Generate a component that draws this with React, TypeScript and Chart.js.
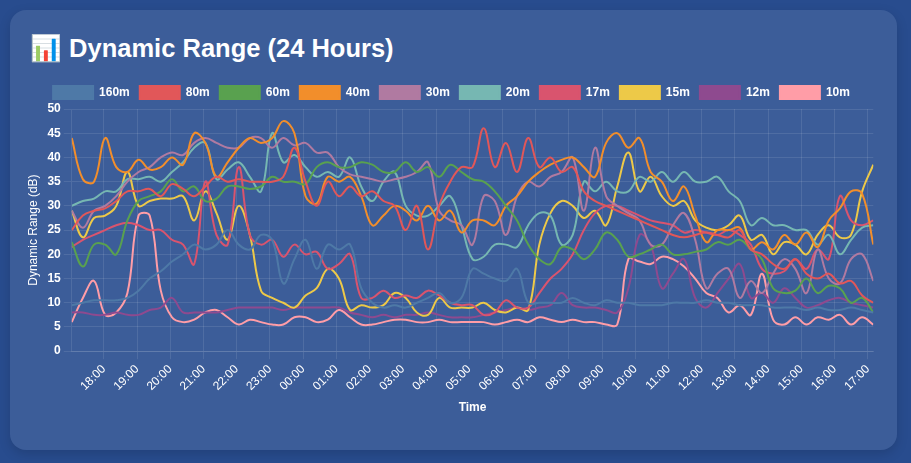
import { useEffect, useRef } from 'react';
import { Chart, registerables } from 'chart.js';

Chart.register(...registerables);

// sampling: minutes after 17:00 of the first reading, and spacing between readings
const START_MIN = 2;
const STEP_MIN = 20.11;

const BANDS = ['160m', '80m', '60m', '40m', '30m', '20m', '17m', '15m', '12m', '10m'];
const BAND_COLORS = [
  '#4e79a7', '#e15759', '#59a14f', '#f28e2b', '#b07aa1',
  '#76b7b2', '#d9546e', '#edc948', '#8e4a8f', '#ff9da7',
];

const DR_160 = [
  9.5, 10, 10.5, 10.5, 10.5, 11, 12.5, 15, 16.5, 18.5, 20, 22, 21, 22, 25, 22, 21, 24, 23,
  14, 19, 23, 17, 22, 21, 22, 13, 10, 9, 9.5, 9, 10, 11, 12, 10, 11, 17,
  16, 15, 14.5, 17, 10, 10, 10, 10, 11, 10, 9.5, 10.5, 10, 10, 9.5, 9.5, 9.5, 10,
  10, 10, 10.5, 10, 10, 9.5, 9.5, 9.5, 9, 9, 9, 8.5, 9, 8.5, 8.5, 9, 8.5, 8,
];
const DR_80 = [
  25, 28, 29, 29.5, 31, 33, 33, 33.5, 32, 34.5, 33.5, 32, 34, 36, 35, 35.5, 35, 35, 35,
  36, 42, 35, 30, 35, 32, 34, 32, 33, 31, 30, 25, 30, 21, 30, 35, 38, 38,
  46, 38, 43, 37, 44, 38, 40, 37, 38, 33, 31, 30, 29, 28, 27, 26, 25, 24,
  23.5, 24, 24.5, 24, 23.5, 25, 21, 20, 18, 17, 19, 16, 15, 16, 14, 14.5, 11.5, 10,
];
const DR_60 = [
  22.5, 17.5, 22, 22, 20, 27, 31, 32, 33, 35.5, 33, 34, 31, 31.5, 34, 34, 33.5, 34, 36,
  35, 35, 34.5, 38, 39, 38, 38, 39, 38.5, 37, 37, 39, 37, 38, 36, 38.5, 37, 35.5,
  35, 33, 30, 27, 22, 19, 18, 21.5, 21, 19, 21, 24.5, 23, 19.5, 20, 21, 22, 20,
  20, 20.5, 21, 22.5, 22, 23, 21, 19, 13, 12, 12.5, 15, 12, 13.5, 13, 10, 11, 8,
];
const DR_40 = [
  44, 35.5, 35, 44, 38, 37, 39.5, 37.5, 38, 40, 38.5, 45, 43, 36, 39, 42, 44, 43, 44,
  47.5, 45, 32, 30.5, 36, 35, 36, 32, 26, 28, 30, 29, 27, 30, 27, 29, 24.5, 27,
  27, 26, 30, 32, 35, 37, 38.5, 39.5, 40, 38, 36, 43, 45, 42, 44, 37, 35, 31,
  34, 28, 22.5, 25, 25, 25.5, 21, 22.5, 21, 24, 22, 24.5, 21.5, 27, 29.5, 33, 32.5, 22,
];
const DR_30 = [
  29, 25.5, 29, 30, 32, 35, 37, 38, 40, 41, 40.5, 43, 44, 43, 42, 42, 44, 44, 42,
  44, 42.5, 43, 41, 41, 38, 36.5, 36, 35.5, 35, 35.5, 36, 37, 39, 29, 27, 26, 22,
  32, 31, 24, 32, 35, 34, 36, 37, 40, 29, 42, 32, 30, 28.5, 27, 22, 22, 26,
  28.5, 23, 13, 16, 17, 11, 14.5, 12, 16, 19, 17, 12, 21, 15, 14, 19, 20, 14.5,
];
const DR_20 = [
  30, 31, 31.5, 33, 33, 35.5, 35.5, 36, 35, 37, 39, 42, 43, 35.5, 37.5, 39, 36, 33, 45,
  39, 40.5, 38, 36, 37, 36, 40, 34, 31, 35, 37, 30, 28, 28, 30, 32, 26, 19,
  19.5, 22, 22, 21.5, 26, 28.5, 28, 22, 24, 35, 33, 35, 33, 33, 36, 35, 37, 35,
  37, 35, 35, 36, 33, 31, 26, 27.5, 26, 26, 25, 25, 22, 24, 20, 23, 25.5, 26,
];
const DR_17 = [
  21.5, 23, 24, 25, 26, 26.5, 26, 25, 25, 23, 22, 18, 35, 24, 22, 38, 24, 22, 23,
  19.5, 22, 20, 20.5, 17, 18, 20, 11, 11, 12.5, 11, 11.5, 11, 12.5, 11.5, 10, 9.5, 9.5,
  7.5, 8, 10.5, 9, 9, 12, 15, 17, 20, 25, 28.5, 30, 30, 29, 28, 27, 26.5, 26,
  24.5, 25, 24.5, 24, 25, 24, 22, 17, 16, 16.5, 19, 17, 21, 19, 32, 27, 26, 27,
];
const DR_15 = [
  29, 23.5, 27.5, 28, 30, 37, 30, 31, 31.5, 31.5, 32, 27, 33, 28.5, 23, 30, 24, 12.5, 11,
  10, 9, 11.5, 13, 17, 15, 8.5, 9.5, 9, 9.5, 12, 11, 8, 7.5, 11, 9, 9, 9,
  10, 8.5, 8, 9, 8.5, 22, 28.5, 31, 30, 27.5, 29, 26, 34, 41, 33, 36, 32, 30,
  31, 27, 25.5, 25, 26, 28, 23, 24, 20, 22.5, 22, 20, 24, 26, 23.5, 24, 33, 38.5,
];
const DR_12 = [
  8, 8, 7.5, 7.5, 8, 7.5, 7.5, 8.5, 9, 11, 8, 8, 8, 8, 8.5, 9, 9, 9, 9,
  8.5, 9, 9, 9, 9, 9, 8, 7.5, 7, 7.5, 7, 7.5, 7.5, 8, 7.5, 7, 7, 7,
  7.5, 8, 8.5, 9, 8.5, 9, 9.5, 12, 9.5, 9, 9, 8.5, 8, 13, 24, 22, 13, 16,
  19, 11, 9, 12, 15, 18, 11, 12, 10, 13, 11, 9, 9.5, 10.5, 11, 10, 9.5, 9,
];
const DR_10 = [
  6, 11, 14.5, 7.5, 8, 12, 28, 28, 12.5, 7, 6, 6.5, 8, 8.5, 7, 5.5, 6.5, 6, 5.5,
  5.5, 7, 7, 6, 6.5, 8.5, 7, 5.5, 5.5, 6, 6.5, 6.5, 6, 6, 6.5, 6, 6, 6,
  6, 5.5, 6, 6.5, 6, 7, 6.5, 6, 6.5, 6, 6, 5.5, 5.5, 19, 18.5, 18, 19.5, 19,
  17.5, 15, 12, 11, 8, 9.5, 7.5, 16, 6.5, 5.5, 7, 5.5, 7, 6.5, 7.5, 5.5, 7, 5.5,
];

const SERIES = [DR_160, DR_80, DR_60, DR_40, DR_30, DR_20, DR_17, DR_15, DR_12, DR_10];
const TIMES = DR_160.map((_, i) => START_MIN + i * STEP_MIN);

const GRID = 'rgba(255,255,255,0.1)';

function hourLabel(v: number) {
  const h = (17 + Math.round(v / 60)) % 24;
  return `${String(h).padStart(2, '0')}:00`;
}

function DynamicRangeChart() {
  const canvasRef = useRef<HTMLCanvasElement>(null);
  const chartRef = useRef<Chart | null>(null);

  useEffect(() => {
    if (!canvasRef.current) return;
    if (chartRef.current) chartRef.current.destroy();

    Chart.defaults.font.family = "'Liberation Sans', Arial, sans-serif";
    Chart.defaults.color = '#ffffff';

    chartRef.current = new Chart(canvasRef.current, {
      type: 'line',
      data: {
        datasets: BANDS.map((band, k) => ({
          label: band,
          data: SERIES[k].map((v, i) => ({ x: TIMES[i], y: v })),
          borderColor: BAND_COLORS[k],
          backgroundColor: BAND_COLORS[k],
          borderWidth: 2,
          pointRadius: 0,
          tension: 0.4,
          fill: false,
        })),
      },
      options: {
        animation: false,
        responsive: true,
        maintainAspectRatio: false,
        plugins: {
          legend: {
            labels: {
              color: '#ffffff',
              boxWidth: 40,
              boxHeight: 13,
              font: { size: 12, weight: 'bold' },
            },
          },
          tooltip: { enabled: false },
        },
        scales: {
          x: {
            type: 'linear',
            min: TIMES[0],
            max: TIMES[TIMES.length - 1],
            grid: { color: GRID },
            border: { color: GRID },
            ticks: {
              stepSize: 60,
              includeBounds: false,
              color: '#ffffff',
              minRotation: 45,
              maxRotation: 45,
              font: { size: 12 },
              callback: (v) => hourLabel(Number(v)),
            },
            title: { display: true, text: 'Time', color: '#ffffff', font: { size: 12, weight: 'bold' } },
          },
          y: {
            min: 0,
            max: 50,
            grid: { color: GRID },
            border: { color: GRID },
            ticks: { stepSize: 5, color: '#ffffff', font: { size: 12, weight: 'bold' } },
            title: { display: true, text: 'Dynamic Range (dB)', color: '#ffffff', font: { size: 12 } },
          },
        },
      },
    });

    return () => chartRef.current?.destroy();
  }, []);

  return <canvas ref={canvasRef} />;
}

export default function App() {
  return (
    <div style={{ position: 'fixed', inset: 0, background: '#284c8e', fontFamily: "'Liberation Sans', Arial, sans-serif" }}>
      <div
        style={{
          position: 'absolute',
          left: 10,
          top: 10,
          width: 887,
          height: 440,
          borderRadius: 16,
          background: '#3c5d99',
          boxShadow: '0 4px 12px rgba(0,0,0,0.15)',
        }}
      >
        <div style={{ position: 'absolute', left: 20, top: 23, color: '#ffffff', fontSize: 25.5, fontWeight: 'bold' }}>
          📊 Dynamic Range (24 Hours)
        </div>
        <div style={{ position: 'absolute', left: 12, top: 66, width: 859, height: 343 }}>
          <DynamicRangeChart />
        </div>
      </div>
    </div>
  );
}
